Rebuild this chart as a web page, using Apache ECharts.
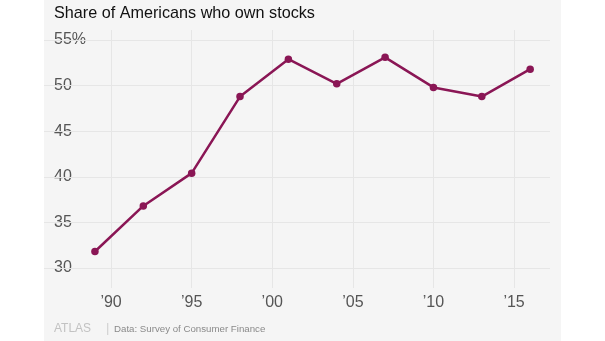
<!DOCTYPE html>
<html>
<head>
<meta charset="utf-8">
<script src="https://cdn.jsdelivr.net/npm/echarts@6/dist/echarts.min.js"></script>
<style>
  html, body { margin: 0; padding: 0; background: #ffffff; }
  #chart { width: 605px; height: 341px; }
</style>
</head>
<body>
<div id="chart"></div>
<script>
// Survey years and share of Americans owning stocks (percent)
const years = [1989, 1992, 1995, 1998, 2001, 2004, 2007, 2010, 2013, 2016];
const shares = [31.8, 36.8, 40.4, 48.8, 52.9, 50.2, 53.1, 49.8, 48.8, 51.8];
const xTicks = [1990, 1995, 2000, 2005, 2010, 2015];
const yTicks = [30, 35, 40, 45, 50, 55];

const gridColor = '#e6e6e6';
const lineColor = '#8a1655';
const labelColor = '#555555';
const font = '"Liberation Sans", Arial, sans-serif';

const chart = echarts.init(document.getElementById('chart'), null, { renderer: 'canvas' });

chart.setOption({
  animation: false,
  backgroundColor: '#ffffff',
  graphic: [
    { type: 'rect', z: -10, shape: { x: 44, y: 0, width: 517, height: 341 }, style: { fill: '#f5f5f5' } },
    { type: 'text', left: 54, top: 6, style: { text: 'Share of Americans who own stocks', fill: '#111111', font: '16.2px ' + font } },
    { type: 'text', left: 54, top: 323, style: { text: 'ATLAS', fill: '#c2c2c2', font: '12px ' + font, letterSpacing: 4 } },
    { type: 'text', left: 106, top: 322, style: { text: '|', fill: '#d0d0d0', font: '13px ' + font } },
    { type: 'text', left: 114, top: 324, style: { text: 'Data: Survey of Consumer Finance', fill: '#8a8a8a', font: '9.7px ' + font } }
  ],
  grid: { left: 44, right: 55, top: 30, bottom: 53, containLabel: false },
  xAxis: {
    type: 'value',
    min: 1985.84,
    max: 2017.23,
    axisLine: { show: false },
    axisTick: { show: false },
    splitLine: { show: false },
    axisLabel: {
      customValues: xTicks,
      formatter: v => '\u2019' + String(v).slice(2),
      color: labelColor,
      fontSize: 16,
      fontFamily: font,
      margin: 7
    }
  },
  yAxis: {
    type: 'value',
    min: 27.8,
    max: 56.1,
    axisLine: { show: false },
    axisTick: { show: false },
    splitLine: { show: false },
    axisLabel: {
      inside: true,
      customValues: yTicks,
      formatter: v => v === 55 ? v + '%' : String(v),
      color: labelColor,
      fontSize: 16,
      fontFamily: font,
      margin: 10
    }
  },
  series: [
    {
      type: 'line',
      data: years.map((y, i) => [y, shares[i]]),
      symbol: 'circle',
      symbolSize: 7.5,
      lineStyle: { color: lineColor, width: 2.5 },
      itemStyle: { color: lineColor },
      z: 5,
      markLine: {
        silent: true,
        symbol: 'none',
        label: { show: false },
        lineStyle: { color: gridColor, width: 1, type: 'solid' },
        z: 1,
        data: yTicks.map(v => ({ yAxis: v })).concat(xTicks.map(v => ({ xAxis: v })))
      }
    }
  ]
});
</script>
</body>
</html>
